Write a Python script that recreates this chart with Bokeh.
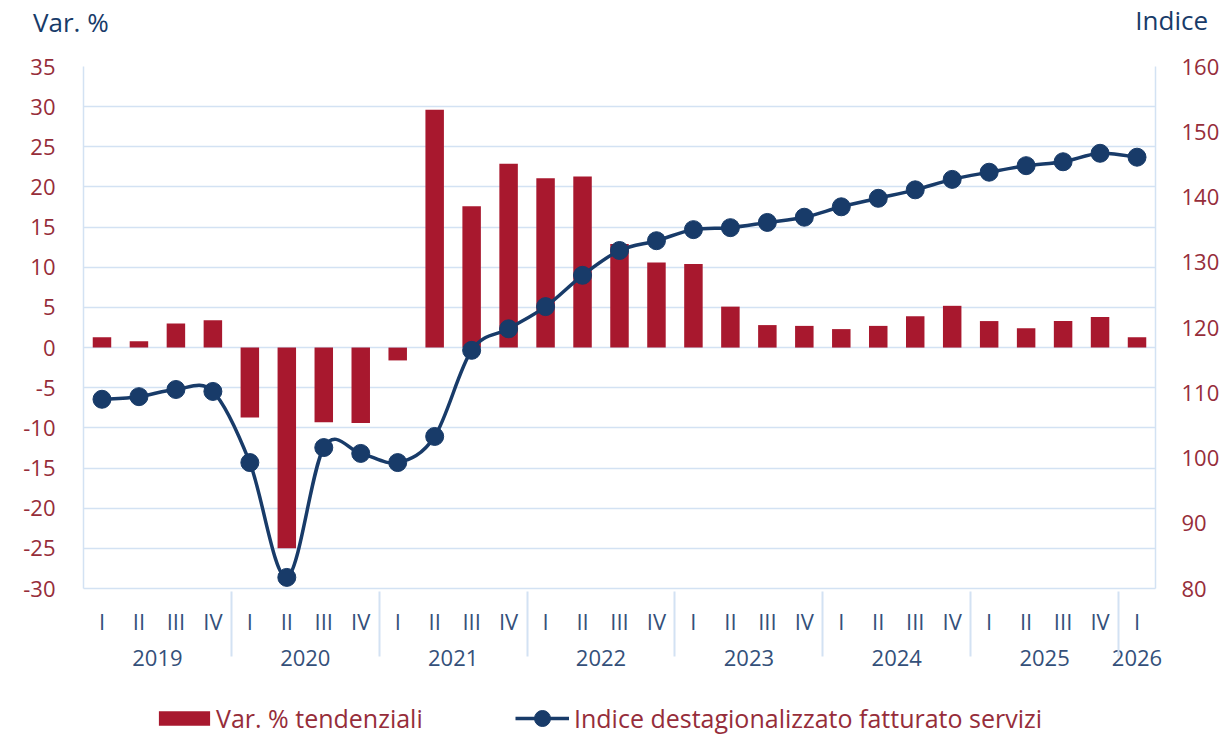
from bokeh.plotting import figure
from bokeh.layouts import column
from bokeh.models import (FactorRange, Range1d, LinearAxis, FixedTicker, Legend,
                          LegendItem, ColumnDataSource, Div)
from bokeh.embed import file_html
from bokeh.resources import INLINE

# ---------------- data ----------------
years = ["2019", "2020", "2021", "2022", "2023", "2024", "2025", "2026"]
quarters = ["I", "II", "III", "IV"]
quarters_per_year = [4, 4, 4, 4, 4, 4, 4, 1]

var_pct = [1.3, 0.8, 3.0, 3.4,
           -8.7, -25.0, -9.3, -9.4,
           -1.6, 29.6, 17.6, 22.9,
           21.1, 21.3, 12.9, 10.6,
           10.4, 5.1, 2.8, 2.7,
           2.3, 2.7, 3.9, 5.2,
           3.3, 2.4, 3.3, 3.8,
           1.3]

indice = [109.0, 109.4, 110.5, 110.2,
          99.3, 81.7, 101.6, 100.7,
          99.3, 103.3, 116.5, 119.8,
          123.2, 128.0, 131.8, 133.3,
          135.0, 135.3, 136.1, 136.9,
          138.5, 139.8, 141.1, 142.7,
          143.8, 144.8, 145.4, 146.7,
          146.1]

left_ticks = list(range(-30, 40, 5))
right_ticks = list(range(80, 170, 10))

bar_label = "Var. % tendenziali"
line_label = "Indice destagionalizzato fatturato servizi"
left_title = "Var. %"
right_title = "Indice"

# ---------------- styles ----------------
RED = "#A8182E"
NAVY = "#183B69"
TICK_RED = "#962D3A"
XLAB = "#34507A"
GRID = "#D3E2F3"
FONT = "Open Sans"
W = 1216

# ---------------- header with the two axis titles ----------------
span_css = (f"position:absolute;font-family:'{FONT}';font-size:26px;color:{NAVY};"
            "line-height:32px;white-space:nowrap;")
head = Div(text=(f'<div style="position:relative;width:{W}px;height:40px;">'
                 f'<span style="{span_css}left:33px;top:6px;">{left_title}</span>'
                 f'<span style="{span_css}right:8px;top:4px;">{right_title}</span></div>'),
           width=W, height=40, margin=0)

# ---------------- main chart ----------------
factors = [(y, q) for y, n in zip(years, quarters_per_year) for q in quarters[:n]]

x_range = FactorRange(*factors, factor_padding=0, group_padding=0, range_padding=0)
p = figure(x_range=x_range, y_range=Range1d(left_ticks[0], left_ticks[-1]),
           frame_width=1072, frame_height=522, output_backend="svg",
           toolbar_location=None,
           min_border_left=83, min_border_right=61, min_border_top=26,
           min_border_bottom=110)
p.outline_line_color = None
p.background_fill_color = "white"
p.extra_y_ranges = {"idx": Range1d(right_ticks[0], right_ticks[-1])}

# grid
p.xgrid.visible = False
p.ygrid.ticker = FixedTicker(ticks=left_ticks)
p.ygrid.grid_line_color = GRID
p.ygrid.grid_line_width = 1.5

# bars
src = ColumnDataSource(dict(x=factors, v=var_pct, idx=indice))
bar_style = dict(width=0.5, fill_color=RED, line_color=None)
bars = p.vbar(x="x", top="v", bottom=0, source=src, **bar_style)

# smooth line (Bezier segments through data points, synthetic x = i + 0.5)
xs = [i + 0.5 for i in range(len(indice))]
n = len(indice)
x0, y0, x1, y1, cx0, cy0, cx1, cy1 = [], [], [], [], [], [], [], []
for i in range(n - 1):
    a = max(i - 1, 0)
    d = min(i + 2, n - 1)
    x0.append(xs[i]); y0.append(indice[i])
    x1.append(xs[i + 1]); y1.append(indice[i + 1])
    cx0.append(xs[i] + (xs[i + 1] - xs[a]) / 6.0)
    cy0.append(indice[i] + (indice[i + 1] - indice[a]) / 6.0)
    cx1.append(xs[i + 1] - (xs[d] - xs[i]) / 6.0)
    cy1.append(indice[i + 1] - (indice[d] - indice[i]) / 6.0)
bez_src = ColumnDataSource(dict(x0=x0, y0=y0, x1=x1, y1=y1,
                                cx0=cx0, cy0=cy0, cx1=cx1, cy1=cy1))
bez_kw = dict(x0="x0", y0="y0", x1="x1", y1="y1", cx0="cx0", cy0="cy0",
              cx1="cx1", cy1="cy1", source=bez_src, line_color=NAVY, line_width=3.5)
p.bezier(y_range_name="idx", **bez_kw)
dot_kw = dict(x="x", y="idx", source=src, size=18, fill_color=NAVY, line_color=NAVY)
p.scatter(y_range_name="idx", **dot_kw)

# left axis
ly = p.yaxis[0]
ly.ticker = FixedTicker(ticks=left_ticks)
ly.major_label_overrides = {t: str(t) for t in left_ticks}
ly.major_label_text_font = FONT
ly.major_label_text_font_size = "22px"
ly.major_label_text_color = TICK_RED
ly.major_tick_line_color = None
ly.minor_tick_line_color = None
ly.axis_line_color = GRID
ly.axis_line_width = 1.5
ly.major_label_standoff = 22

# right axis
ry = LinearAxis(y_range_name="idx", ticker=FixedTicker(ticks=right_ticks))
ry.major_label_text_font = FONT
ry.major_label_text_font_size = "22px"
ry.major_label_text_color = TICK_RED
ry.major_tick_line_color = None
ry.minor_tick_line_color = None
ry.axis_line_color = GRID
ry.axis_line_width = 1.5
ry.major_label_standoff = 20
p.add_layout(ry, "right")

# x axis
xa = p.xaxis[0]
xa.major_label_text_font = FONT
xa.major_label_text_font_size = "22px"
xa.major_label_text_color = XLAB
xa.group_text_font = FONT
xa.group_text_font_size = "22px"
xa.group_text_color = XLAB
xa.group_text_font_style = "normal"
xa.major_tick_line_color = None
xa.minor_tick_line_color = None
xa.axis_line_color = GRID
xa.axis_line_width = 1.5
xa.separator_line_color = GRID
xa.separator_line_width = 2
xa.major_label_standoff = 11

# ---------------- footer with the legend ----------------
foot = figure(x_range=x_range, y_range=Range1d(0, 1), frame_width=1072, frame_height=40,
              output_backend="svg", toolbar_location=None,
              min_border_left=83, min_border_right=61, min_border_top=0, min_border_bottom=0,
              x_axis_location=None, y_axis_location=None)
foot.grid.visible = False
foot.outline_line_color = None
fb = foot.vbar(x="x", top="v", bottom=0, source=src, visible=False, **bar_style)
fl = foot.bezier(visible=False, **bez_kw)
fd = foot.scatter(visible=False, **dot_kw)

leg_kw = dict(orientation="horizontal", label_text_font=FONT, label_text_font_size="25px",
              label_text_color=TICK_RED, border_line_color=None,
              background_fill_alpha=0, padding=0, margin=0)
leg1 = Legend(items=[LegendItem(label=bar_label, renderers=[fb])],
              location=(69, 3), glyph_width=64, glyph_height=18, label_standoff=0, **leg_kw)
leg2 = Legend(items=[LegendItem(label=line_label, renderers=[fl, fd])],
              location=(432, 0), glyph_width=54, glyph_height=40, label_standoff=5, **leg_kw)
foot.add_layout(leg1, "center")
foot.add_layout(leg2, "center")

layout = column(head, p, foot, spacing=0)
open("out.html", "w").write(file_html(layout, INLINE))
